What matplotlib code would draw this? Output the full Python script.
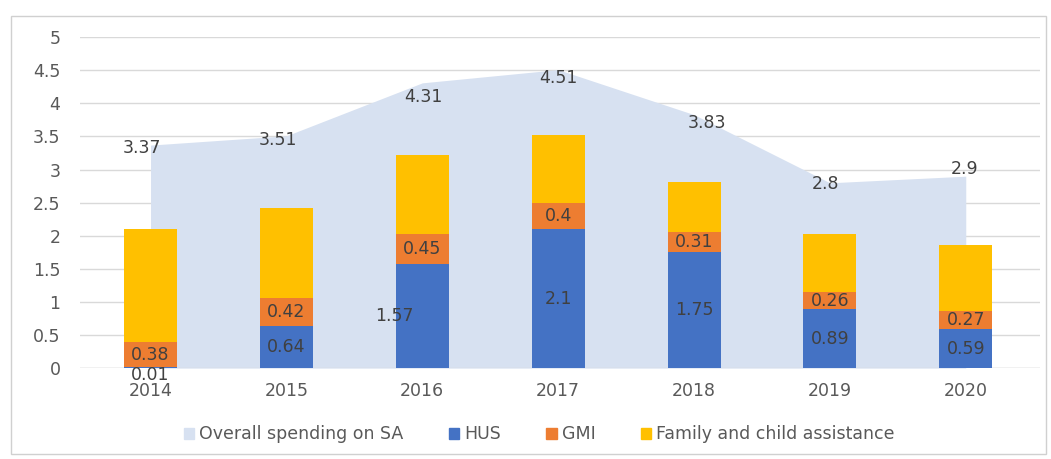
import matplotlib.pyplot as plt
from matplotlib.patches import Rectangle
import numpy as np

years = ['2014', '2015', '2016', '2017', '2018', '2019', '2020']
overall = [3.37, 3.51, 4.31, 4.51, 3.83, 2.8, 2.9]
hus = [0.01, 0.64, 1.57, 2.1, 1.75, 0.89, 0.59]
gmi = [0.38, 0.42, 0.45, 0.4, 0.31, 0.26, 0.27]
family = [1.71, 1.36, 1.2, 1.02, 0.75, 0.88, 1.0]

c_area = '#d7e1f1'
c_hus = '#4472c4'
c_gmi = '#ed7d31'
c_fam = '#ffc000'
c_txt = '#404040'

plt.rcParams['font.family'] = ['DejaVu Sans']
fs = 12.5

fig = plt.figure(figsize=(10.51, 4.59), dpi=100)
ax = fig.add_axes([0.076, 0.198, 0.914, 0.721])

x = np.arange(len(years))

# aire "overall"
ax.fill_between(x, 0, overall, color=c_area, lw=0, zorder=1)
# décalages des étiquettes (en points) comme dans l'original
lab_dx = [-6, -6, 1, 0, 9, -3, -1]
lab_dy = [-2, -3, -10, -6, -6, -1, 5]
for i, v in enumerate(overall):
    ax.annotate(f'{v:g}', (i, v), xytext=(lab_dx[i], lab_dy[i]), textcoords='offset points',
                ha='center', va='center', fontsize=fs, color=c_txt, zorder=5)

# barres empilées
w = 0.39
ax.bar(x, hus, w, color=c_hus, zorder=3)
ax.bar(x, gmi, w, bottom=hus, color=c_gmi, zorder=3)
bot = np.array(hus) + np.array(gmi)
ax.bar(x, family, w, bottom=bot, color=c_fam, zorder=3)

for i in range(len(years)):
    dx = -20 if i == 2 else 0
    dy = -5 if i == 0 else 0
    ax.annotate(f'{hus[i]:g}', (i, hus[i] / 2), xytext=(dx, dy), textcoords='offset points',
                ha='center', va='center', fontsize=fs, color=c_txt, zorder=5)
    ax.annotate(f'{gmi[i]:g}', (i, hus[i] + gmi[i] / 2), xytext=(0, 0), textcoords='offset points',
                ha='center', va='center', fontsize=fs, color=c_txt, zorder=5)

ax.set_xlim(-0.52, 6.55)
ax.set_ylim(0, 5)
ax.set_yticks(np.arange(0, 5.01, 0.5))
ax.set_yticklabels(['0', '0.5', '1', '1.5', '2', '2.5', '3', '3.5', '4', '4.5', '5'])
ax.set_xticks(x)
ax.set_xticklabels(years)
ax.tick_params(length=0, labelsize=fs, labelcolor='#595959')
ax.tick_params(axis='y', pad=14)
ax.tick_params(axis='x', pad=10)
ax.grid(axis='y', color='#d9d9d9', lw=1, zorder=0)
ax.set_axisbelow(True)
for s in ax.spines.values():
    s.set_visible(False)
ax.axhline(0, color='#d9d9d9', lw=1, zorder=2)

handles = [plt.Rectangle((0, 0), 1, 1, color=c) for c in (c_area, c_hus, c_gmi, c_fam)]
labels = ['Overall spending on SA', 'HUS', 'GMI', 'Family and child assistance']
fig.legend(handles, labels, loc='center', bbox_to_anchor=(0.513, 0.054), ncol=4, frameon=False,
           fontsize=fs, handlelength=0.6, handleheight=0.6, handletextpad=0.3, columnspacing=2.6,
           labelcolor='#595959')

# cadre
fig.patches.append(Rectangle((0.01, 0.01), 0.985, 0.955, transform=fig.transFigure,
                             fill=False, edgecolor='#d0d0d0', lw=1))

fig.savefig('out.png', dpi=100)
